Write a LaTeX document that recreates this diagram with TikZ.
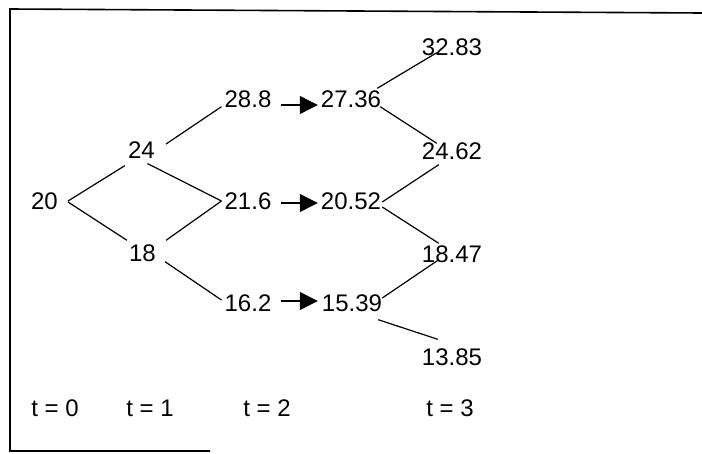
\documentclass[tikz,border=0pt]{standalone}
\usepackage{fontspec}
\setmainfont{Liberation Sans}
\usetikzlibrary{arrows.meta}
\begin{document}
\begin{tikzpicture}[x=1pt,y=-1pt,
  val/.style={inner sep=0pt, font=\fontsize{24}{28}\selectfont},
  tlab/.style={inner sep=0pt, font=\fontsize{24}{28}\selectfont},
  edge/.style={line width=1.2pt},
  arr/.style={line width=1.3pt, -{Triangle[length=18pt,width=18pt]}},
  frame/.style={line width=1.6pt}]
\useasboundingbox (0,0) rectangle (702,453);
% frame (partial, as printed)
\coordinate (ftl) at (10,9);
\coordinate (ftr) at (702,13);
\coordinate (fbl) at (10,451);
\coordinate (fbr) at (210,451);
\draw[frame] (ftr) -- (ftl) -- (fbl) -- (fbr);
% values
\node[val] (n20)   at (44.5,201) {20};
\node[val] (n24)   at (141.5,150) {24};
\node[val] (n18)   at (142.5,253) {18};
\node[val] (n288)  at (248,99)  {28.8};
\node[val] (n216)  at (248,201) {21.6};
\node[val] (n162)  at (248,303) {16.2};
\node[val] (n2736) at (351,99)  {27.36};
\node[val] (n2052) at (351,201) {20.52};
\node[val] (n1539) at (352,303) {15.39};
\node[val] (n3283) at (452,47)  {32.83};
\node[val] (n2462) at (452,151) {24.62};
\node[val] (n1847) at (452,254) {18.47};
\node[val] (n1385) at (452,357) {13.85};
% time labels
\node[tlab] (t0) at (55,408)  {t = 0};
\node[tlab] (t1) at (150,408) {t = 1};
\node[tlab] (t2) at (267,408) {t = 2};
\node[tlab] (t3) at (450,408) {t = 3};
% tree edges
\draw[edge] ([xshift=10pt]n20.east) -- ([shift={(-3pt,-7pt)}]n24.south west);
\draw[edge] ([xshift=10pt,yshift=-1pt]n20.east) -- ([shift={(-2pt,4pt)}]n18.north west);
\draw[edge] ([shift={(6pt,-5pt)}]n24.south) -- ([xshift=-3pt]n216.west);
\draw[edge] ([shift={(10pt,4pt)}]n18.north east) -- ([xshift=-3pt]n216.west);
\draw[edge] ([xshift=9pt]n18.south east) -- ([shift={(-3pt,3pt)}]n162.west);
\draw[edge] ([shift={(11pt,6pt)}]n24.east) -- ([shift={(-3pt,1pt)}]n288.south west);
\draw[edge] ([shift={(-4pt,2pt)}]n2736.north east) -- ([shift={(15pt,3pt)}]n3283.south west);
\draw[edge] ([shift={(-1pt,1pt)}]n2736.south east) -- ([shift={(15pt,-1pt)}]n2462.north west);
\draw[edge] ([shift={(1pt,-1pt)}]n2052.east) -- ([shift={(17pt,-5pt)}]n2462.south west);
\draw[edge] ([shift={(1pt,-6pt)}]n2052.east) -- ([shift={(17pt,2pt)}]n1847.north west);
\draw[edge] ([shift={(0pt,5pt)}]n1539.east) -- ([shift={(17pt,3pt)}]n1847.south west);
\draw[edge] ([shift={(-4pt,-8pt)}]n1539.south east) -- ([shift={(16pt,9pt)}]n1385.north west);
% horizontal arrows
\draw[arr] ([shift={(9pt,-6pt)}]n288.east) -- ([shift={(-3pt,-6pt)}]n2736.west);
\draw[arr] ([shift={(9pt,-2pt)}]n216.east) -- ([shift={(-3pt,-2pt)}]n2052.west);
\draw[arr] ([shift={(9pt,2pt)}]n162.east) -- ([shift={(-4pt,2pt)}]n1539.west);
\end{tikzpicture}
\end{document}
